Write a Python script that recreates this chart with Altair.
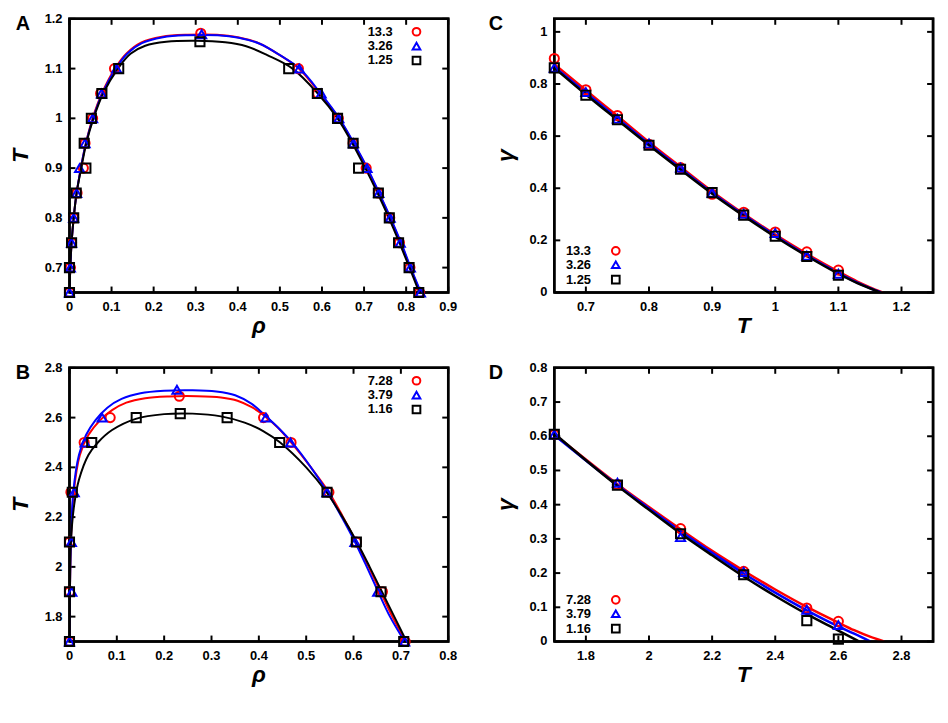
import altair as alt
import pandas as pd

FONT = "Liberation Sans"
RED, BLUE, BLACK = "#ff0000", "#0000ff", "#000000"
COLORS = [RED, BLUE, BLACK]
SHAPES = ["circle", "triangle-up", "square"]

# ---------------- Panel A (rho, T) ----------------
a_labels = ["13.3", "3.26", "1.25"]
a_T_levels = [0.65, 0.70, 0.75, 0.80, 0.85, 0.90, 0.95, 1.00, 1.05, 1.10]
a_red_rho = [0.000, 0.002, 0.005, 0.010, 0.018, 0.033, 0.037, 0.055, 0.074, 0.107, 0.312,
             0.544, 0.590, 0.639, 0.674, 0.705, 0.734, 0.761, 0.784, 0.809, 0.832]
a_red_T = a_T_levels + [1.171] + a_T_levels[::-1]
a_blue_rho = [0.000, 0.002, 0.005, 0.010, 0.017, 0.024, 0.037, 0.055, 0.076, 0.112, 0.314,
              0.546, 0.598, 0.640, 0.675, 0.707, 0.735, 0.762, 0.786, 0.810, 0.834]
a_blue_T = a_T_levels + [1.169] + a_T_levels[::-1]
a_black_rho = [0.000, 0.000, 0.005, 0.010, 0.016, 0.039, 0.035, 0.052, 0.077, 0.117, 0.310,
               0.521, 0.589, 0.637, 0.674, 0.687, 0.734, 0.760, 0.782, 0.807, 0.830]
a_black_T = a_T_levels + [1.154] + a_T_levels[::-1]

a_red_fit_rho = [0.000, 0.002, 0.005, 0.010, 0.017, 0.027, 0.039, 0.055, 0.077, 0.108, 0.135, 0.170,
                 0.220, 0.280, 0.350, 0.400, 0.450, 0.500, 0.545, 0.595, 0.640, 0.675, 0.707, 0.735,
                 0.762, 0.787, 0.810, 0.834]
a_red_fit_T = [0.650, 0.700, 0.750, 0.800, 0.850, 0.900, 0.950, 1.000, 1.050, 1.100, 1.130, 1.152,
               1.164, 1.168, 1.168, 1.163, 1.151, 1.127, 1.100, 1.050, 1.000, 0.950, 0.900, 0.850,
               0.800, 0.750, 0.700, 0.650]
a_blue_fit_rho = [0.000, 0.002, 0.005, 0.010, 0.017, 0.027, 0.039, 0.056, 0.078, 0.110, 0.137, 0.172,
                  0.222, 0.282, 0.352, 0.402, 0.452, 0.502, 0.547, 0.597, 0.641, 0.676, 0.708, 0.736,
                  0.763, 0.788, 0.811, 0.835]
a_blue_fit_T = [0.650, 0.700, 0.750, 0.800, 0.850, 0.900, 0.950, 1.000, 1.050, 1.100, 1.130, 1.151,
                1.163, 1.167, 1.167, 1.162, 1.150, 1.126, 1.100, 1.050, 1.000, 0.950, 0.900, 0.850,
                0.800, 0.750, 0.700, 0.650]
a_black_fit_rho = [0.000, 0.002, 0.005, 0.010, 0.017, 0.028, 0.040, 0.057, 0.080, 0.115, 0.145, 0.180,
                   0.230, 0.300, 0.370, 0.420, 0.470, 0.530, 0.590, 0.637, 0.672, 0.703, 0.732,
                   0.759, 0.784, 0.808, 0.831]
a_black_fit_T = [0.650, 0.700, 0.750, 0.800, 0.850, 0.900, 0.950, 1.000, 1.050, 1.100, 1.130, 1.146,
                 1.154, 1.156, 1.153, 1.145, 1.127, 1.100, 1.050, 1.000, 0.950, 0.900, 0.850,
                 0.800, 0.750, 0.700, 0.650]

# ---------------- Panel B (rho, T) ----------------
b_labels = ["7.28", "3.79", "1.16"]
b_red_rho = [0.000, 0.000, 0.000, 0.003, 0.031, 0.086, 0.232, 0.410, 0.468, 0.548, 0.606, 0.661, 0.709]
b_red_T = [1.70, 1.90, 2.10, 2.30, 2.50, 2.60, 2.686, 2.60, 2.50, 2.30, 2.10, 1.90, 1.70]
b_blue_rho = [0.000, 0.005, 0.004, 0.010, 0.033, 0.069, 0.227, 0.415, 0.467, 0.544, 0.603, 0.651, 0.708]
b_blue_T = [1.70, 1.90, 2.10, 2.30, 2.50, 2.60, 2.712, 2.60, 2.50, 2.30, 2.10, 1.90, 1.70]
b_black_rho = [0.000, 0.000, 0.000, 0.006, 0.047, 0.141, 0.234, 0.333, 0.444, 0.544, 0.606, 0.658, 0.706]
b_black_T = [1.70, 1.90, 2.10, 2.30, 2.50, 2.60, 2.616, 2.60, 2.50, 2.30, 2.10, 1.90, 1.70]

b_red_fit_rho = [0.000, 0.001, 0.003, 0.009, 0.022, 0.040, 0.065, 0.090, 0.120, 0.160, 0.210, 0.270,
                 0.320, 0.355, 0.385, 0.410, 0.440, 0.468, 0.510, 0.548, 0.578, 0.606, 0.632, 0.657,
                 0.682, 0.710]
b_red_fit_T = [1.70, 1.90, 2.10, 2.30, 2.45, 2.53, 2.59, 2.63, 2.66, 2.678, 2.685, 2.686,
               2.681, 2.668, 2.642, 2.610, 2.560, 2.50, 2.40, 2.30, 2.20, 2.10, 2.00, 1.90,
               1.80, 1.70]
b_blue_fit_rho = [0.000, 0.001, 0.003, 0.008, 0.020, 0.035, 0.055, 0.080, 0.110, 0.150, 0.200, 0.260,
                  0.310, 0.350, 0.385, 0.415, 0.443, 0.470, 0.510, 0.545, 0.575, 0.603, 0.628, 0.652,
                  0.677, 0.708]
b_blue_fit_T = [1.70, 1.90, 2.10, 2.30, 2.45, 2.53, 2.59, 2.64, 2.675, 2.698, 2.708, 2.710,
                2.705, 2.690, 2.655, 2.605, 2.555, 2.50, 2.40, 2.30, 2.20, 2.10, 2.00, 1.90,
                1.80, 1.70]
b_black_fit_rho = [0.000, 0.001, 0.003, 0.010, 0.020, 0.040, 0.060, 0.090, 0.140, 0.200, 0.260, 0.320,
                   0.370, 0.410, 0.445, 0.500, 0.543, 0.577, 0.607, 0.634, 0.660, 0.686, 0.712]
b_black_fit_T = [1.70, 1.90, 2.10, 2.25, 2.35, 2.45, 2.50, 2.55, 2.595, 2.614, 2.616, 2.605,
                 2.580, 2.545, 2.50, 2.40, 2.30, 2.20, 2.10, 2.00, 1.90, 1.80, 1.70]

# ---------------- Panel C (T, gamma) ----------------
c_labels = ["13.3", "3.26", "1.25"]
c_T = [0.65, 0.70, 0.75, 0.80, 0.85, 0.90, 0.95, 1.00, 1.05, 1.10]
c_red_g = [0.898, 0.778, 0.679, 0.569, 0.479, 0.377, 0.308, 0.232, 0.156, 0.086]
c_blue_g = [0.862, 0.769, 0.667, 0.572, 0.479, 0.383, 0.302, 0.228, 0.141, 0.072]
c_black_g = [0.862, 0.757, 0.663, 0.565, 0.473, 0.383, 0.297, 0.216, 0.138, 0.066]

c_red_fit_T = [0.65, 0.70, 0.75, 0.80, 0.85, 0.90, 0.95, 1.00, 1.05, 1.10, 1.13, 1.15, 1.170]
c_red_fit_g = [0.876, 0.776, 0.677, 0.577, 0.482, 0.388, 0.302, 0.222, 0.148, 0.080, 0.042, 0.020, 0.0]
c_blue_fit_T = [0.65, 0.70, 0.75, 0.80, 0.85, 0.90, 0.95, 1.00, 1.05, 1.10, 1.13, 1.15, 1.168]
c_blue_fit_g = [0.866, 0.767, 0.668, 0.570, 0.476, 0.383, 0.298, 0.218, 0.143, 0.075, 0.038, 0.017, 0.0]
c_black_fit_T = [0.65, 0.70, 0.75, 0.80, 0.85, 0.90, 0.95, 1.00, 1.05, 1.10, 1.13, 1.15, 1.166]
c_black_fit_g = [0.862, 0.760, 0.662, 0.565, 0.471, 0.379, 0.294, 0.214, 0.140, 0.072, 0.036, 0.016, 0.0]

# ---------------- Panel D (T, gamma) ----------------
d_labels = ["7.28", "3.79", "1.16"]
d_T = [1.7, 1.9, 2.1, 2.3, 2.5, 2.6]
d_red_g = [0.605, 0.459, 0.330, 0.205, 0.098, 0.059]
d_blue_g = [0.605, 0.464, 0.305, 0.203, 0.093, 0.048]
d_black_g = [0.606, 0.457, 0.315, 0.195, 0.061, 0.007]

d_red_fit_T = [1.7, 1.8, 1.9, 2.0, 2.1, 2.2, 2.3, 2.4, 2.5, 2.6, 2.65, 2.70, 2.745]
d_red_fit_g = [0.605, 0.532, 0.460, 0.393, 0.328, 0.265, 0.207, 0.152, 0.101, 0.055, 0.033, 0.014, 0.0]
d_blue_fit_T = [1.7, 1.8, 1.9, 2.0, 2.1, 2.2, 2.3, 2.4, 2.5, 2.6, 2.65, 2.702]
d_blue_fit_g = [0.603, 0.529, 0.457, 0.389, 0.322, 0.259, 0.199, 0.143, 0.091, 0.044, 0.023, 0.0]
d_black_fit_T = [1.7, 1.8, 1.9, 2.0, 2.1, 2.2, 2.3, 2.4, 2.5, 2.6, 2.666]
d_black_fit_g = [0.608, 0.530, 0.455, 0.385, 0.316, 0.252, 0.190, 0.133, 0.080, 0.032, 0.0]

W, H = 382, 276
TICK = 6


def frame(xs, ys):
    return pd.DataFrame({"x": xs, "y": ys, "i": list(range(len(xs)))})


def panel(fits, pts, labels, xdom, ydom, xticks, yticks, xtitle, ytitle, letter,
          legend_xy, line_w, interp):
    xsc = alt.Scale(domain=xdom, nice=False, zero=False)
    ysc = alt.Scale(domain=ydom, nice=False, zero=False)

    def X(field):
        return alt.X(field, scale=xsc, axis=None)

    def Y(field):
        return alt.Y(field, scale=ysc, axis=None)

    x0, x1 = xdom
    y0, y1 = ydom
    dx = TICK / W * (x1 - x0)   # tick length expressed in data units
    dy = TICK / H * (y1 - y0)

    one = pd.DataFrame({"a": [0]})
    xl = pd.DataFrame({"v": xticks, "lab": [f"{v:g}" for v in xticks]})
    yl = pd.DataFrame({"v": yticks, "lab": [f"{v:g}" for v in yticks]})

    # border box through the corners of the scale domains
    box = frame([x0, x1, x1, x0, x0], [y0, y0, y1, y1, y0])
    # inward tick segments on all four sides, one group per tick
    seg = []
    g = 0
    for v in xticks:
        for (ya, yb) in [(y0, y0 + dy), (y1, y1 - dy)]:
            seg += [dict(g=g, i=0, x=v, y=ya), dict(g=g, i=1, x=v, y=yb)]
            g += 1
    for v in yticks:
        for (xa, xb) in [(x0, x0 + dx), (x1, x1 - dx)]:
            seg += [dict(g=g, i=0, x=xa, y=v), dict(g=g, i=1, x=xb, y=v)]
            g += 1
    ticks = pd.DataFrame(seg)

    layers = []
    layers.append(alt.Chart(ticks).mark_line(color="black", strokeWidth=2).encode(
        x=X("x:Q"), y=Y("y:Q"), detail="g:N", order=alt.Order("i:Q")))
    # fitted curves
    for k, (fx, fy) in enumerate(fits):
        layers.append(alt.Chart(frame(fx, fy)).mark_line(
            color=COLORS[k], strokeWidth=line_w, interpolate=interp, clip=True
        ).encode(x=X("x:Q"), y=Y("y:Q"), order=alt.Order("i:Q")))
    layers.append(alt.Chart(box).mark_line(color="black", strokeWidth=2.5).encode(
        x=X("x:Q"), y=Y("y:Q"), order=alt.Order("i:Q")))
    # data points
    for k, (px, py) in enumerate(pts):
        layers.append(alt.Chart(frame(px, py)).mark_point(
            shape=SHAPES[k], color=COLORS[k], filled=False, size=85, strokeWidth=2, opacity=1
        ).encode(x=X("x:Q"), y=Y("y:Q")))
    # tick labels
    lab_style = dict(font=FONT, fontSize=13, fontWeight="bold", color="black")
    layers.append(alt.Chart(xl).mark_text(align="center", baseline="top", **lab_style).encode(
        x=X("v:Q"), y=alt.value(H + 9), text="lab:N"))
    layers.append(alt.Chart(yl).mark_text(align="right", baseline="middle", **lab_style).encode(
        y=Y("v:Q"), x=alt.value(-7), text="lab:N"))
    # axis titles
    ttl_style = dict(font=FONT, fontSize=23, fontWeight="bold", fontStyle="italic", color="black")
    layers.append(alt.Chart(one).mark_text(text=xtitle, align="center", baseline="alphabetic",
                                           **ttl_style).encode(x=alt.value(W / 2), y=alt.value(H + 41)))
    layers.append(alt.Chart(one).mark_text(text=ytitle, align="center", baseline="alphabetic",
                                           angle=270, **ttl_style).encode(
        x=alt.value(-42), y=alt.value(H / 2)))
    # key
    lx, sx, rows = legend_xy
    for k, lab in enumerate(labels):
        layers.append(alt.Chart(one).mark_text(text=lab, align="right", baseline="middle",
                                               **lab_style).encode(
            x=alt.value(lx), y=alt.value(rows[k])))
        layers.append(alt.Chart(one).mark_point(shape=SHAPES[k], color=COLORS[k], filled=False,
                                                size=60, strokeWidth=2, opacity=1).encode(
            x=alt.value(sx), y=alt.value(rows[k])))
    # panel letter
    layers.append(alt.Chart(one).mark_text(text=letter, align="center", baseline="middle",
                                           font=FONT, fontSize=20, fontWeight="bold",
                                           color="black").encode(
        x=alt.value(-47 if letter in "AB" else -59), y=alt.value(5)))
    return alt.layer(*layers).properties(width=W, height=H)


legend_top = (326, 350, [13, 27.5, 42])
legend_bottom = (37, 62, [H - 42, H - 28, H - 13])

pA = panel(
    [(a_red_fit_rho, a_red_fit_T), (a_blue_fit_rho, a_blue_fit_T), (a_black_fit_rho, a_black_fit_T)],
    [(a_red_rho, a_red_T), (a_blue_rho, a_blue_T), (a_black_rho, a_black_T)],
    a_labels, [0, 0.9], [0.65, 1.2],
    [0, 0.1, 0.2, 0.3, 0.4, 0.5, 0.6, 0.7, 0.8, 0.9], [0.7, 0.8, 0.9, 1.0, 1.1, 1.2],
    "ρ", "T", "A", legend_top, 2, "catmull-rom")

pB = panel(
    [(b_red_fit_rho, b_red_fit_T), (b_blue_fit_rho, b_blue_fit_T), (b_black_fit_rho, b_black_fit_T)],
    [(b_red_rho, b_red_T), (b_blue_rho, b_blue_T), (b_black_rho, b_black_T)],
    b_labels, [0, 0.8], [1.7, 2.8],
    [0, 0.1, 0.2, 0.3, 0.4, 0.5, 0.6, 0.7, 0.8], [1.8, 2.0, 2.2, 2.4, 2.6, 2.8],
    "ρ", "T", "B", legend_top, 2, "catmull-rom")

pC = panel(
    [(c_red_fit_T, c_red_fit_g), (c_blue_fit_T, c_blue_fit_g), (c_black_fit_T, c_black_fit_g)],
    [(c_T, c_red_g), (c_T, c_blue_g), (c_T, c_black_g)],
    c_labels, [0.65, 1.25], [0, 1.05],
    [0.7, 0.8, 0.9, 1.0, 1.1, 1.2], [0, 0.2, 0.4, 0.6, 0.8, 1.0],
    "T", "γ", "C", legend_bottom, 2.5, "monotone")

pD = panel(
    [(d_red_fit_T, d_red_fit_g), (d_blue_fit_T, d_blue_fit_g), (d_black_fit_T, d_black_fit_g)],
    [(d_T, d_red_g), (d_T, d_blue_g), (d_T, d_black_g)],
    d_labels, [1.7, 2.9], [0, 0.8],
    [1.8, 2.0, 2.2, 2.4, 2.6, 2.8], [0, 0.1, 0.2, 0.3, 0.4, 0.5, 0.6, 0.7, 0.8],
    "T", "γ", "D", legend_bottom, 2.5, "monotone")

chart = alt.vconcat(
    alt.hconcat(pA, pC, spacing=28),
    alt.hconcat(pB, pD, spacing=28),
    spacing=20,
).properties(
    padding={"left": 0, "top": 0, "right": 0, "bottom": 0}, background="white"
).configure_view(
    stroke="black", strokeWidth=2.5
)

chart.save("out.html", embed_options={"renderer": "svg", "actions": False})
